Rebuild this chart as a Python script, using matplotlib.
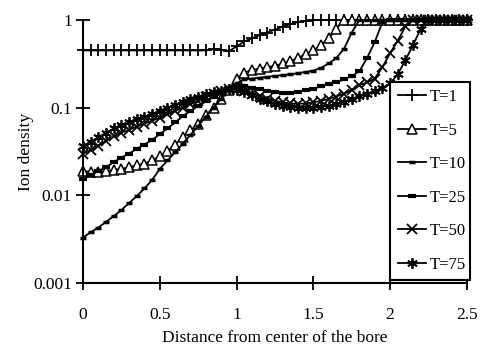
import numpy as np
import matplotlib
matplotlib.use("Agg")
import matplotlib.pyplot as plt

plt.rcParams['font.family'] = ['Liberation Serif', 'DejaVu Serif']

# distance from bore centre, step 0.05
x = np.round(np.arange(0, 2.501, 0.05), 2)

t1 = [0.45] * 17 + [0.47, 0.46, 0.44, 0.50, 0.57, 0.62, 0.67, 0.72, 0.78, 0.84,
                    0.90, 0.95, 0.98] + [1.0] * 21

t5 = [0.019, 0.0185, 0.0185, 0.019, 0.0195, 0.020, 0.021, 0.022, 0.023, 0.025,
      0.028, 0.032, 0.038, 0.046, 0.055, 0.066, 0.082, 0.10, 0.125, 0.16,
      0.21, 0.25, 0.27, 0.28, 0.29, 0.30, 0.32, 0.34, 0.37, 0.41,
      0.45, 0.52, 0.62, 0.80] + [1.0] * 17

t10 = [0.0033, 0.0038, 0.0043, 0.0050, 0.0058, 0.0068, 0.0082, 0.0098, 0.012, 0.0150,
       0.020, 0.025, 0.031, 0.039, 0.049, 0.062, 0.079, 0.10, 0.127, 0.16,
       0.19, 0.21, 0.215, 0.22, 0.225, 0.23, 0.236, 0.24, 0.248, 0.256,
       0.265, 0.285, 0.32, 0.37, 0.47, 0.72] + [1.0] * 15

t25 = [0.0155, 0.017, 0.019, 0.021, 0.024, 0.027, 0.030, 0.034, 0.038, 0.043,
       0.050, 0.058, 0.068, 0.080, 0.092, 0.105, 0.118, 0.132, 0.148, 0.165,
       0.175, 0.175, 0.17, 0.162, 0.155, 0.15, 0.148, 0.148, 0.152, 0.16,
       0.165, 0.175, 0.185, 0.195, 0.21, 0.23, 0.26, 0.37, 0.56, 0.95] + [1.0] * 11

t50 = [0.030, 0.033, 0.037, 0.042, 0.047, 0.052, 0.056, 0.061, 0.066, 0.071,
       0.077, 0.084, 0.092, 0.10, 0.11, 0.12, 0.132, 0.145, 0.155, 0.162,
       0.165, 0.155, 0.145, 0.135, 0.127, 0.12, 0.115, 0.112, 0.111, 0.112,
       0.115, 0.12, 0.126, 0.134, 0.145, 0.16, 0.18, 0.195, 0.215, 0.29,
       0.42, 0.58, 0.85] + [1.0] * 8

t75 = [0.037, 0.041, 0.046, 0.052, 0.058, 0.063, 0.068, 0.074, 0.079, 0.085,
       0.092, 0.10, 0.108, 0.117, 0.125, 0.133, 0.142, 0.15, 0.157, 0.162,
       0.16, 0.15, 0.138, 0.127, 0.118, 0.111, 0.106, 0.102, 0.10, 0.099,
       0.10, 0.102, 0.106, 0.11, 0.117, 0.125, 0.135, 0.145, 0.155, 0.168,
       0.19, 0.24, 0.35, 0.52, 0.80] + [1.0] * 6

series = [
    ('T=1', t1, dict(marker='+', ms=9, mew=1.3)),
    ('T=5', t5, dict(marker='^', ms=6.5, mfc='white', mew=1.1)),
    ('T=10', t10, dict(marker='_', ms=4, mew=2.5)),
    ('T=25', t25, dict(marker='_', ms=6, mew=3)),
    ('T=50', t50, dict(marker='x', ms=6.5, mew=1.3)),
    ('T=75', t75, dict(marker=(6, 2, 0), ms=7.5, mew=1.3)),
]

fig = plt.figure(figsize=(4.81, 3.46), dpi=100)
ax = fig.add_axes([0.1726, 0.182, 0.798, 0.760])

for label, vals, style in series:
    ax.plot(x, vals, color='black', lw=1.3, mec='black', label=label,
            clip_on=False, **style)

ax.set_yscale('log')
ax.set_xlim(0, 2.5)
ax.set_ylim(0.001, 1)
ax.set_xticks([0, 0.5, 1, 1.5, 2, 2.5])
ax.set_xticklabels(['0', '0.5', '1', '1.5', '2', '2.5'])
ax.set_yticks([0.001, 0.01, 0.1, 1])
ax.set_yticklabels(['0.001', '0.01', '0.1', '1'])
ax.minorticks_off()
ax.tick_params(axis='both', direction='inout', length=10, width=1.3, labelsize=12.5)
ax.tick_params(axis='x', pad=12)
ax.tick_params(axis='y', pad=3)

for s in ['top', 'right']:
    ax.spines[s].set_visible(False)
for s in ['left', 'bottom']:
    ax.spines[s].set_linewidth(1.5)

ax.set_xlabel('Distance from center of the bore', fontsize=12.5, labelpad=5)
ax.set_ylabel('Ion density', fontsize=12.5)
ax.yaxis.set_label_coords(-0.128, 0.5)

leg = ax.legend(loc='lower left', bbox_to_anchor=(0.811, 0.190, 0.166, 0.559),
                bbox_transform=fig.transFigure, mode='expand', frameon=True,
                fancybox=False, edgecolor='black', framealpha=1, fontsize=12,
                handlelength=1.7, handletextpad=0.25, labelspacing=1.05,
                borderpad=0.45, borderaxespad=0)
leg.get_frame().set_linewidth(1.5)
leg.set_zorder(5)

fig.savefig('out.png', dpi=100)
